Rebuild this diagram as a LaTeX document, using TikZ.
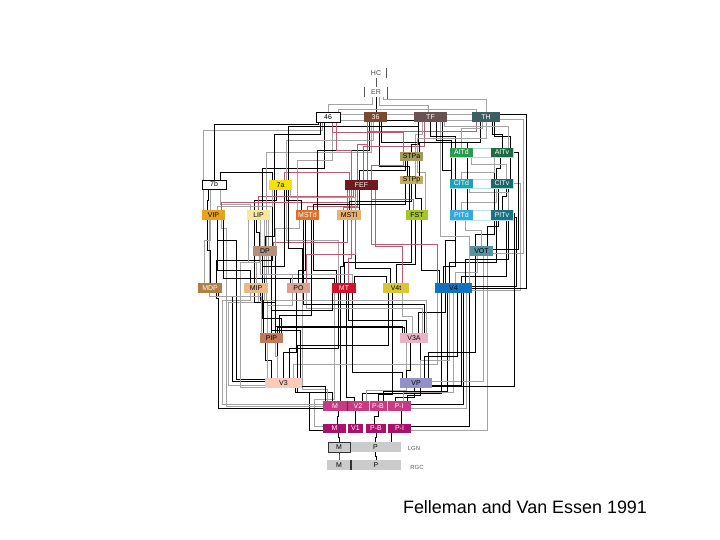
\documentclass[tikz,border=0pt]{standalone}
\usepackage{fontspec}
\setmainfont{Liberation Sans}
\definecolor{cRed}{HTML}{C8566E}
\definecolor{cGry}{HTML}{A4A4A4}
\definecolor{c36}{HTML}{7B4A2E}
\definecolor{cTF}{HTML}{6B5252}
\definecolor{cTH}{HTML}{3E5F62}
\definecolor{cSTPa}{HTML}{A39A5C}
\definecolor{cAITd}{HTML}{2D9B52}
\definecolor{cAITv}{HTML}{1C6B45}
\definecolor{c7a}{HTML}{F2E205}
\definecolor{cFEF}{HTML}{6E1A1E}
\definecolor{cSTPp}{HTML}{C4AB62}
\definecolor{cCITd}{HTML}{1EA3B3}
\definecolor{cCITv}{HTML}{166B6B}
\definecolor{cVIP}{HTML}{E9A21C}
\definecolor{cLIP}{HTML}{F7E7A1}
\definecolor{cMSTd}{HTML}{E07126}
\definecolor{cMSTl}{HTML}{E8B273}
\definecolor{cFST}{HTML}{A6C625}
\definecolor{cPITd}{HTML}{33A9E0}
\definecolor{cPITv}{HTML}{1B7283}
\definecolor{cDP}{HTML}{B38F78}
\definecolor{cVOT}{HTML}{5592A2}
\definecolor{cMDP}{HTML}{B07F42}
\definecolor{cMIP}{HTML}{EAB987}
\definecolor{cPO}{HTML}{D9A393}
\definecolor{cMT}{HTML}{D0122F}
\definecolor{cVt}{HTML}{D8C734}
\definecolor{cV4}{HTML}{1172C1}
\definecolor{cPIP}{HTML}{C27A5A}
\definecolor{cV3A}{HTML}{EAB2C4}
\definecolor{cV3}{HTML}{F9CBBD}
\definecolor{cVP}{HTML}{9491C9}
\definecolor{cV2}{HTML}{C93A82}
\definecolor{cV1}{HTML}{A9116D}
\definecolor{cLGN}{HTML}{CBCBCB}
\pgfdeclarelayer{wires}
\pgfdeclarelayer{frames}
\pgfsetlayers{wires,frames,main}
% A.north -> level y -> B.south
\newcommand\wUp[6][k]{\draw[#1] ([xshift=#3]#2.north) -- ([xshift=#3]#2.north |- 0,#4) -| ([xshift=#6]#5.south);}
% A.north -> level y -> B.north
\newcommand\wTop[6][k]{\draw[#1] ([xshift=#3]#2.north) -- ([xshift=#3]#2.north |- 0,#4) -| ([xshift=#6]#5.north);}
% A.east -> column x -> B.east
\newcommand\wEast[6][k]{\draw[#1] ([yshift=#3]#2.east) -- ([yshift=#3]#2.east -| #4,0) |- ([yshift=#6]#5.east);}
% A.east -> B.south
\newcommand\wEU[5][k]{\draw[#1] ([yshift=#3]#2.east) -| ([xshift=#5]#4.south);}
% A.west -> column x -> level y -> B.south
\newcommand\wLU[7][k]{\draw[#1] ([yshift=#3]#2.west) -- ([yshift=#3]#2.west -| #4,0) -- (#4,#5) -| ([xshift=#7]#6.south);}
\begin{document}
\begin{tikzpicture}[x=1bp,y=-1bp,
  box/.style={rectangle, inner sep=0pt, minimum height=10, font=\fontsize{7}{8}\selectfont},
  txt/.style={inner sep=0pt, minimum height=9, font=\fontsize{7}{8}\selectfont, text=black!70},
  lab/.style={inner sep=0pt, font=\fontsize{6}{7}\selectfont, text=black!65},
  k/.style={draw=black, line width=0.55pt},
  g/.style={draw=cGry, line width=0.9pt},
  r/.style={draw=cRed, line width=0.6pt},
  hk/.style={draw=black!65, line width=0.6pt}]
\useasboundingbox (0,0) rectangle (720,540);

% ---------- boxes ----------
\node[txt] (HC) at (376,73) {HC};
\node[txt] (ER) at (376,92) {ER};
\node[box,draw=black,line width=0.5pt,fill=white,minimum width=24] (n46) at (328,117) {46};
\node[box,fill=c36,text=white,minimum width=23] (n36) at (375.5,117) {36};
\node[box,fill=cTF,text=white,minimum width=33] (TF) at (430.5,117) {TF};
\node[box,fill=cTH,text=white,minimum width=28] (TH) at (486,117) {TH};
\node[box,fill=cSTPa,text=black,minimum width=23,minimum height=9] (STPa) at (411.5,156.5) {STPa};
\node[box,fill=cAITd,text=white,minimum width=23,minimum height=9] (AITd) at (461.5,152.5) {AITd};
\node[box,fill=cAITv,text=white,minimum width=22,minimum height=9] (AITv) at (502,152.5) {AITv};
\node[box,draw=black,line width=0.5pt,fill=white,minimum width=24,minimum height=9] (b7) at (214,184.5) {7b};
\node[box,fill=c7a,text=black,minimum width=23] (a7) at (280.5,185) {7a};
\node[box,fill=cFEF,text=white,minimum width=33] (FEF) at (361.5,185) {FEF};
\node[box,fill=cSTPp,text=black,minimum width=23,minimum height=8] (STPp) at (411.5,180) {STPp};
\node[box,fill=cCITd,text=white,minimum width=23,minimum height=9] (CITd) at (461.5,183.5) {CITd};
\node[box,fill=cCITv,text=white,minimum width=22,minimum height=9] (CITv) at (502,183.5) {CITv};
\node[box,fill=cVIP,text=black,minimum width=23] (VIP) at (213.5,215) {VIP};
\node[box,fill=cLIP,text=black,minimum width=23] (LIP) at (258.5,215) {LIP};
\node[box,fill=cMSTd,text=white,minimum width=23] (MSTd) at (307.5,215) {MSTd};
\node[box,fill=cMSTl,text=black,minimum width=24] (MSTl) at (349,215) {MSTl};
\node[box,fill=cFST,text=black,minimum width=22] (FST) at (417,215) {FST};
\node[box,fill=cPITd,text=white,minimum width=23] (PITd) at (461.5,215) {PITd};
\node[box,fill=cPITv,text=white,minimum width=22] (PITv) at (502,215) {PITv};
\node[box,fill=cDP,text=black,minimum width=24] (DP) at (265,251) {DP};
\node[box,fill=cVOT,text=black,minimum width=23] (VOT) at (481.5,251) {VOT};
\node[box,fill=cMDP,text=white,minimum width=24] (MDP) at (210,288) {MDP};
\node[box,fill=cMIP,text=black,minimum width=24] (MIP) at (256,288) {MIP};
\node[box,fill=cPO,text=black,minimum width=23] (PO) at (298.5,288) {PO};
\node[box,fill=cMT,text=white,minimum width=24] (MT) at (344,288) {MT};
\node[box,fill=cVt,text=black,minimum width=26] (Vt) at (396,288) {V4t};
\node[box,fill=cV4,text=black,minimum width=37] (V4) at (453.5,288) {V4};
\node[box,fill=cPIP,text=black,minimum width=23] (PIP) at (271.5,338) {PIP};
\node[box,fill=cV3A,text=black,minimum width=28] (V3A) at (414,338) {V3A};
\node[box,fill=cV3,text=black,minimum width=37] (V3) at (283.5,383) {V3};
\node[box,fill=cVP,text=black,minimum width=32] (VP) at (416,383) {VP};
\node[box,fill=cV2,text=white,minimum width=24] (V2M) at (335,406) {M};
\node[box,fill=cV2,text=white,minimum width=22] (V2) at (358,406) {V2};
\node[box,fill=cV2,text=white,minimum width=18] (V2B) at (378,406) {P-B};
\node[box,fill=cV2,text=white,minimum width=24] (V2I) at (399,406) {P-I};
\node[box,fill=cV1,text=white,minimum width=23,minimum height=9] (V1M) at (334.5,428.5) {M};
\node[box,fill=cV1,text=white,minimum width=15,minimum height=9] (V1) at (355.5,428.5) {V1};
\node[box,fill=cV1,text=white,minimum width=20,minimum height=9] (V1B) at (376,428.5) {P-B};
\node[box,fill=cV1,text=white,minimum width=23,minimum height=9] (V1I) at (399.5,428.5) {P-I};
\node[box,fill=cLGN,text=black,minimum width=51] (LP) at (375.5,447) {P};
\node[box,fill=cLGN,draw=black!80,line width=0.8pt,text=black,minimum width=22] (LM) at (339,447) {M};
\node[box,fill=cLGN,text=black,minimum width=24] (RM) at (339,465) {M};
\node[box,fill=cLGN,text=black,minimum width=50] (RP) at (376,465) {P};
\node[lab] (LGN) at (414,448) {LGN};
\node[lab] (RGC) at (417,467) {RGC};
\draw[line width=1.4pt, black!80] (RM.north east) -- (RM.south east);
\draw[line width=1pt, black!75] (V2M.north east) -- (V2M.south east);
\draw[line width=0.4pt, white!70!cV2] (V2.north east) -- (V2.south east);
\draw[line width=0.4pt, white!70!cV2] (V2B.north east) -- (V2B.south east);
\node[font=\fontsize{18}{21}\selectfont] (title) at (525,507) {Felleman and Van Essen 1991};

% ---------- frames joining d/v parts ----------
\begin{pgfonlayer}{frames}
\draw[draw=cAITd!35, fill=white, line width=0.6pt] (AITd.north west) rectangle (AITv.south east);
\draw[draw=cCITd!35, fill=white, line width=0.6pt] (CITd.north west) rectangle (CITv.south east);
\draw[draw=cPITd!35, fill=white, line width=0.6pt] (PITd.north west) rectangle (PITv.south east);
\end{pgfonlayer}

% ---------- wires ----------
\begin{pgfonlayer}{wires}
% HC / ER
\draw[hk] ([xshift=10]HC.north) -- ([xshift=10]HC.south);
\draw[hk] (HC.south) -- (ER.north);
\draw[hk] ([xshift=-12]ER.north) -- ([xshift=-12]ER.south);
\draw[hk] ([xshift=11]ER.north) -- ([xshift=11,yshift=-2]ER.south);
\draw[g] ([xshift=-4]ER.south) -- ([xshift=-4]ER.south |- 0,104) -| (n46.north);
\draw[g] ([xshift=3]ER.south) -- ([xshift=3]ER.south |- 0,105) -| ([xshift=-2]TF.north);
\draw[g] ([xshift=7]ER.south) -- ([xshift=7]ER.south |- 0,99) -| (TH.north);
\draw[k] (ER.south) -- (ER.south |- n36.north);
% top row
\draw[g] ([yshift=3]n46.east) -- ([yshift=3]n36.west);
\draw[g] ([yshift=-3]n46.east) -- ([yshift=-3]n36.west);
\draw[g] ([yshift=3]n36.east) -- ([yshift=3]TF.west);
\draw[k] ([yshift=-3]n36.east) -- ([yshift=-3]TF.west);
\draw[g] ([yshift=3]TF.east) -- ([yshift=3]TH.west);
\draw[g] ([yshift=-3]TF.east) -- ([yshift=-3]TH.west);
\wTop[g]{n46}{10}{109}{TH}{-10}
% RGC / LGN / V1
\wUp{RM}{0}{456}{LM}{0}
\wUp{RP}{0}{456}{LP}{0}
\wUp{LM}{0}{437}{V1M}{4}
\wUp{LP}{0}{437}{V1B}{0}
\wUp{LP}{16}{437}{V1I}{-8}
\wUp{V1M}{3}{416}{V2M}{3}
\wUp{V1}{0}{416}{V2}{-3}
\wUp{V1B}{-2}{416}{V2B}{0}
\wUp{V1I}{2}{416}{V2I}{2}
\wLU[g]{V1M}{2}{314}{399}{MT}{-10}
\wLU{V1M}{-2}{309}{392}{V3}{14}
\wEU{V1I}{2}{V4}{16}
\wEU[g]{V1I}{-2}{VOT}{6}
% V2
\wUp{V2M}{5}{395}{MT}{-4}
\wUp{V2M}{-3}{392}{V3}{12}
\wUp[g]{V2M}{-8}{389}{PO}{4}
\wUp{V2M}{-10}{386}{PIP}{6}
\wUp{V2}{-4}{397}{MT}{2}
\wUp{V2}{4}{393}{V4}{-12}
\wUp[g]{V2}{8}{390}{V3A}{-8}
\wUp{V2B}{0}{394}{Vt}{-4}
\wUp{V2B}{5}{391}{V4}{-6}
\wUp{V2I}{-4}{397}{VP}{-2}
\wUp[g]{V2I}{4}{392}{V4}{0}
\wUp{V2I}{8}{395}{V3A}{6}
\wEU{V2I}{2}{V4}{10}
\wEU[g]{V2I}{-2}{V4}{13}
\wLU[g]{V2M}{2}{222}{300}{MIP}{-6}
\wLU{V2M}{-2}{218}{298}{MDP}{6}
\wLU[g]{V2M}{0}{226}{228}{VIP}{8}
% V3
\wUp{V3}{-12}{360}{PIP}{-6}
\wUp[g]{V3}{-6}{356}{PIP}{4}
\wUp{V3}{0}{352}{PO}{-2}
\wUp{V3}{6}{348}{MT}{-6}
\wUp[g]{V3}{10}{364}{V4}{-16}
\wUp{V3}{14}{345}{Vt}{-8}
\wUp[g]{V3}{-16}{300}{LIP}{6}
\wUp{V3}{17}{330}{DP}{6}
\wLU{V3}{2}{232}{296}{MDP}{8}
\wLU[g]{V3}{-2}{228}{302}{MIP}{2}
\wLU{V3}{4}{236}{240}{VIP}{4}
\wLU[g]{V3}{-4}{240}{262}{DP}{-6}
% VP
\wUp{VP}{-10}{370}{V3A}{-4}
\wUp{VP}{-14}{372}{MT}{8}
\wUp[g]{VP}{4}{360}{V4}{-4}
\wUp{VP}{8}{356}{V4}{4}
\wUp{VP}{12}{352}{VOT}{-6}
\wEU[g]{VP}{2}{VOT}{2}
\wEU{VP}{-2}{V4}{8}
% V3A
\wUp{V3A}{-8}{320}{MT}{4}
\wUp[g]{V3A}{-2}{316}{Vt}{6}
\wUp{V3A}{4}{312}{V4}{-8}
\wUp[g]{V3A}{8}{308}{PO}{8}
\wUp{V3A}{10}{304}{MSTd}{-4}
\wUp[g]{V3A}{12}{300}{LIP}{8}
\wUp{V3A}{-12}{326}{DP}{10}
\wTop{PIP}{6}{327}{V3A}{-10}
% PIP
\wUp{PIP}{-8}{300}{MIP}{4}
\wUp[g]{PIP}{-4}{305}{PO}{-6}
\wUp{PIP}{0}{310}{MT}{-12}
\wUp{PIP}{4}{302}{LIP}{-4}
\wUp[g]{PIP}{-10}{296}{VIP}{-4}
\wUp{PIP}{8}{315}{MSTd}{4}
\wUp{PIP}{10}{318}{DP}{-3}
% MT
\wUp{MT}{-8}{270}{MSTd}{6}
\wUp{MT}{-4}{266}{MSTl}{-6}
\wUp{MT}{0}{262}{FST}{-6}
\wUp[r]{MT}{4}{258}{FEF}{-10}
\wUp[g]{MT}{8}{274}{LIP}{10}
\wUp{MT}{-10}{278}{VIP}{10}
\wTop{MT}{10}{276}{Vt}{-10}
\wUp[g]{MT}{-6}{240}{a7}{6}
% V4t
\wUp{Vt}{-6}{268}{MSTl}{6}
\wUp{Vt}{0}{264}{FST}{-2}
\wUp[r]{Vt}{6}{246}{FEF}{14}
% V4
\wUp{V4}{-14}{270}{FST}{4}
\wUp{V4}{-10}{266}{PITd}{-6}
\wUp{V4}{-4}{262}{PITv}{-6}
\wUp[g]{V4}{2}{272}{VOT}{-4}
\wUp{V4}{8}{276}{PITv}{4}
\wUp{V4}{12}{259}{CITv}{6}
\wUp[r]{V4}{-16}{244}{FEF}{10}
\wUp{V4}{-8}{240}{CITd}{-6}
\wUp[g]{V4}{16}{236}{TF}{10}
\wEast{V4}{2}{516}{PITv}{-2}
\wEast[g]{V4}{-2}{520}{CITv}{0}
\wEast{V4}{0}{526}{TH}{3}
% VOT
\wUp{VOT}{-6}{234}{PITv}{-8}
\wUp[g]{VOT}{0}{230}{PITd}{4}
\wUp{VOT}{6}{226}{CITv}{-4}
\wEast{VOT}{2}{518}{AITv}{0}
\wEast[g]{VOT}{-2}{523}{TH}{-2}
\wEast{VP}{-3}{514}{PITv}{2}
% DP
\wUp{DP}{-6}{232}{LIP}{-2}
\wUp{DP}{0}{236}{a7}{-6}
\wUp[r]{DP}{8}{242}{FEF}{-14}
\wUp[g]{DP}{10}{228}{MSTd}{-8}
% MDP
\wUp{MDP}{0}{250}{VIP}{-6}
\wUp[g]{MDP}{-6}{240}{b7}{-4}
\wUp{MDP}{6}{260}{a7}{-8}
% MIP
\wUp{MIP}{-6}{270}{VIP}{4}
\wUp[g]{MIP}{0}{262}{LIP}{-10}
\wUp{MIP}{6}{266}{a7}{4}
\wTop{MIP}{8}{278}{PO}{-8}
% PO
\wUp[g]{PO}{-6}{274}{LIP}{2}
\wUp{PO}{0}{270}{MSTd}{-2}
\wUp{PO}{4}{248}{a7}{8}
\wUp[r]{PO}{8}{254}{FEF}{-6}
% LIP / VIP
\wUp{LIP}{-4}{200}{a7}{-4}
\wUp[r]{LIP}{0}{196}{FEF}{-8}
\wUp{LIP}{4}{168}{n46}{-4}
\wUp[g]{LIP}{-8}{204}{b7}{6}
\wUp[g]{LIP}{8}{152}{n36}{-4}
\wUp{VIP}{-6}{200}{b7}{-6}
\wUp[g]{VIP}{4}{206}{a7}{-8}
\wUp[r]{VIP}{8}{202}{FEF}{-12}
\wUp[g]{VIP}{-10}{130}{n46}{-6}
% MSTd / MSTl / FST
\wUp{MSTd}{-6}{200}{a7}{6}
\wUp[r]{MSTd}{0}{206}{FEF}{-4}
\wUp{MSTd}{6}{204}{STPp}{-6}
\wUp[g]{MSTd}{-10}{160}{n46}{4}
\wUp{MSTd}{10}{150}{n36}{-6}
\wUp[r]{MSTl}{-6}{207}{FEF}{-2}
\wUp{MSTl}{0}{201}{STPp}{0}
\wUp[g]{MSTl}{6}{197}{a7}{10}
\wUp{MSTl}{10}{170}{STPa}{-6}
\wUp[r]{FST}{-4}{199}{FEF}{10}
\wUp{FST}{4}{198}{STPp}{4}
\wUp[g]{FST}{8}{172}{STPa}{6}
\wUp{FST}{-8}{166}{n36}{4}
% PIT
\wUp{PITd}{-6}{198}{CITd}{-6}
\wUp[g]{PITd}{0}{202}{CITv}{-6}
\wUp{PITd}{6}{194}{CITd}{6}
\wUp{PITd}{-10}{170}{TF}{12}
\wUp{PITv}{0}{196}{CITv}{4}
\wUp[g]{PITv}{6}{192}{CITd}{8}
\wUp{PITv}{-8}{204}{AITv}{-8}
% 7a / 7b / FEF / STPp / CIT
\wUp{a7}{-6}{134}{n46}{-8}
\wTop[r]{a7}{4}{172}{FEF}{-12}
\wUp[g]{a7}{6}{140}{n36}{-2}
\wUp{a7}{8}{126}{TF}{-12}
\wTop{b7}{6}{172}{a7}{-8}
\wUp{b7}{0}{124}{n46}{-10}
\wUp[r]{FEF}{-10}{150}{n46}{8}
\wUp[r]{FEF}{-4}{144}{n36}{-8}
\wUp[r]{FEF}{2}{146}{TF}{-6}
\wUp[r]{FEF}{6}{131}{TH}{-10}
\wUp[r]{FEF}{10}{165}{STPa}{-8}
\wUp{STPp}{-4}{168}{STPa}{-4}
\wUp[g]{STPp}{4}{134}{TF}{-8}
\wUp{STPp}{8}{142}{TH}{-6}
\wUp{CITd}{-6}{168}{AITd}{-6}
\wUp[g]{CITd}{0}{172}{AITv}{-8}
\wUp{CITd}{6}{164}{AITd}{6}
\wUp{CITd}{-10}{140}{TF}{6}
\wUp{CITv}{-6}{168}{AITv}{-2}
\wUp[g]{CITv}{4}{164}{AITd}{10}
\wUp{CITv}{8}{136}{TH}{8}
% AIT / STPa
\wUp{AITd}{-6}{136}{TF}{0}
\wUp[g]{AITd}{0}{128}{TH}{-4}
\wUp{AITd}{6}{142}{n36}{6}
\wUp{AITv}{0}{134}{TH}{6}
\wUp[g]{AITv}{6}{126}{TF}{14}
\wUp{STPa}{0}{144}{TF}{-12}
\wUp[g]{STPa}{6}{138}{TH}{0}
\wUp[r]{STPa}{-8}{132}{n46}{4}
\end{pgfonlayer}
\end{tikzpicture}
\end{document}
